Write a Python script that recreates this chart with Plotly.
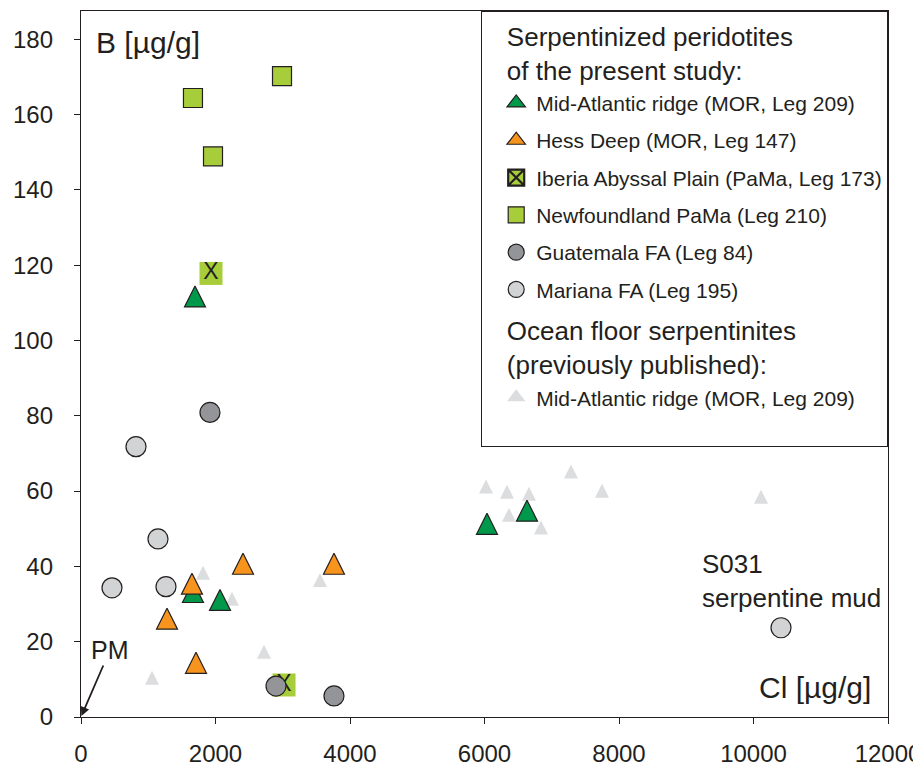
import plotly.graph_objects as go

# ---------------- data (Cl [µg/g], B [µg/g]) ----------------
mar_cl = [1695, 1665, 2067, 6037, 6632]
mar_b = [111.7, 33.2, 31.1, 51.3, 54.8]

hess_cl = [1650, 2409, 3762, 1279, 1710]
hess_b = [35.4, 40.7, 40.7, 26.1, 14.4]

iberia_cl = [1933, 3019]
iberia_b = [117.8, 8.5]

newf_cl = [1665, 1963, 2989]
newf_b = [164.4, 148.9, 170.2]

guat_cl = [1918, 2900, 3762]
guat_b = [80.9, 8.2, 5.6]

mari_cl = [818, 1145, 461, 1264, 10409]
mari_b = [71.8, 47.3, 34.3, 34.6, 23.7]

prev_cl = [1056, 1814, 2245, 2721, 3554, 6022, 6335, 6662, 7286, 7747, 6364, 6840, 10112]
prev_b = [10.4, 38.3, 31.4, 17.3, 36.4, 61.2, 59.8, 59.3, 65.2, 60.1, 53.7, 50.3, 58.5]

x_ticks = [0, 2000, 4000, 6000, 8000, 10000, 12000]
y_ticks = [0, 20, 40, 60, 80, 100, 120, 140, 160, 180]

names = {
    "mar": "Mid-Atlantic ridge (MOR, Leg 209)",
    "hess": "Hess Deep (MOR, Leg 147)",
    "iberia": "Iberia Abyssal Plain (PaMa, Leg 173)",
    "newf": "Newfoundland PaMa (Leg 210)",
    "guat": "Guatemala FA (Leg 84)",
    "mari": "Mariana FA (Leg 195)",
    "prev": "Mid-Atlantic ridge (MOR, Leg 209)",
}

# ---------------- style ----------------
FONT = "Arial, Liberation Sans, Helvetica, sans-serif"
INK = "#231f20"
GREEN = "#00984a"
ORANGE = "#f7941d"
LIME = "#a8cd3a"
DGRAY = "#939598"
LGRAY = "#d1d3d4"
PGRAY = "#dcdddf"

PAD = "&nbsp;&nbsp;&#8201;"
HEAD1 = PAD + "Serpentinized peridotites<br>" + PAD + "of the present study:"
HEAD2 = PAD + "Ocean floor serpentinites<br>" + PAD + "(previously published):"
HEAD_FONT = dict(size=26, color=INK, family=FONT)


def tri(size, color, line_w, line_c=INK):
    # upward triangle as tall as it is wide, centred on the point
    return dict(symbol="arrow-down", angle=180, standoff=size / 2, size=size,
                color=color, line=dict(width=line_w, color=line_c))


fig = go.Figure()

# ---- data traces (drawing order: back to front) ----
fig.add_trace(go.Scatter(x=prev_cl, y=prev_b, mode="markers", showlegend=False,
                         marker=tri(14, PGRAY, 0)))
fig.add_trace(go.Scatter(x=newf_cl, y=newf_b, mode="markers", showlegend=False,
                         marker=dict(symbol="square", size=19, color=LIME,
                                     line=dict(width=1.2, color=INK))))
fig.add_trace(go.Scatter(x=iberia_cl, y=iberia_b, mode="markers+text", showlegend=False,
                         text=["X"] * len(iberia_cl), textposition="middle center",
                         textfont=dict(size=23, color=INK, family=FONT),
                         marker=dict(symbol="square", size=23, color=LIME, line=dict(width=0))))
fig.add_trace(go.Scatter(x=mar_cl, y=mar_b, mode="markers", showlegend=False,
                         marker=tri(21, GREEN, 1.2)))
fig.add_trace(go.Scatter(x=hess_cl, y=hess_b, mode="markers", showlegend=False,
                         marker=tri(21, ORANGE, 1.2)))
fig.add_trace(go.Scatter(x=guat_cl, y=guat_b, mode="markers", showlegend=False,
                         marker=dict(symbol="circle", size=20, color=DGRAY,
                                     line=dict(width=1.2, color=INK))))
fig.add_trace(go.Scatter(x=mari_cl, y=mari_b, mode="markers", showlegend=False,
                         marker=dict(symbol="circle", size=20, color=LGRAY,
                                     line=dict(width=1.2, color=INK))))

# ---- legend entries (legend-only traces, no data) ----
legend_specs = [
    ("mar", dict(symbol="triangle-up", size=16, color=GREEN, line=dict(width=1.2, color=INK)), HEAD1),
    ("hess", dict(symbol="triangle-up", size=16, color=ORANGE, line=dict(width=1.2, color=INK)), None),
    ("iberia", dict(symbol="square-x", size=16, color=LIME, line=dict(width=2.2, color=INK)), None),
    ("newf", dict(symbol="square", size=16, color=LIME, line=dict(width=1.2, color=INK)), None),
    ("guat", dict(symbol="circle", size=16, color=DGRAY, line=dict(width=1.2, color=INK)), None),
    ("mari", dict(symbol="circle", size=16, color=LGRAY, line=dict(width=1.2, color=INK)), None),
    ("prev", dict(symbol="triangle-up", size=16, color=PGRAY, line=dict(width=0)), HEAD2),
]
for rank, (key, mk, head) in enumerate(legend_specs, start=1):
    kw = {}
    if head:
        kw["legendgrouptitle"] = dict(text=head, font=HEAD_FONT)
    label = names[key]
    if key == "prev":
        label = label + "<br> "  # extra blank line = bottom padding of the legend box
    fig.add_trace(go.Scatter(x=[None], y=[None], mode="markers", name=label,
                             marker=mk, legendgroup="g%d" % rank, legendrank=rank,
                             showlegend=True, **kw))

axis_common = dict(
    showline=True, linecolor=INK, linewidth=1.3, mirror=True,
    ticks="outside", ticklen=6, tickwidth=1.2, tickcolor=INK,
    showgrid=False, zeroline=False, automargin=False,
    tickfont=dict(size=24, color=INK, family=FONT),
)

fig.update_xaxes(range=[0, 12000], tickvals=x_ticks, ticktext=[str(v) for v in x_ticks],
                 ticklabelstandoff=9, **axis_common)
fig.update_yaxes(range=[0, 187.5], tickvals=y_ticks, ticktext=[str(v) for v in y_ticks],
                 ticklabelstandoff=16, **axis_common)

fig.add_annotation(text="B [µg/g]", xref="x domain", yref="y domain", x=0, y=1,
                   xanchor="left", yanchor="top", xshift=13, yshift=-13, showarrow=False,
                   font=dict(size=30, color=INK, family=FONT))
fig.add_annotation(text="Cl [µg/g]", xref="x domain", yref="y domain", x=1, y=0,
                   xanchor="right", yanchor="bottom", xshift=-15, yshift=11, showarrow=False,
                   font=dict(size=30, color=INK, family=FONT))
fig.add_annotation(text="S031<br>serpentine mud", xref="x", yref="y", x=9204, y=36.2,
                   xanchor="left", yanchor="middle", align="left", showarrow=False,
                   font=dict(size=26, color=INK, family=FONT))
fig.add_annotation(text="PM", xref="x", yref="y", x=0, y=0, ax=29, ay=-67,
                   axref="pixel", ayref="pixel", showarrow=True, arrowhead=2,
                   arrowsize=1.0, arrowwidth=1.8, arrowcolor=INK, standoff=1,
                   font=dict(size=25, color=INK, family=FONT))

# the page puts the figure 8px in from the top-left corner: size and margins compensate
fig.update_layout(
    width=916, height=760,
    margin=dict(l=73, r=36, t=3, b=51, autoexpand=False),
    paper_bgcolor="white", plot_bgcolor="white",
    font=dict(family=FONT, color=INK),
    showlegend=True,
    legend=dict(
        x=1, y=1, xanchor="right", yanchor="top",
        bgcolor="white", bordercolor=INK, borderwidth=1.2,
        font=dict(size=21, color=INK, family=FONT),
        tracegroupgap=7, traceorder="grouped", indentation=14, valign="top",
    ),
)

fig.write_html("out.html")
